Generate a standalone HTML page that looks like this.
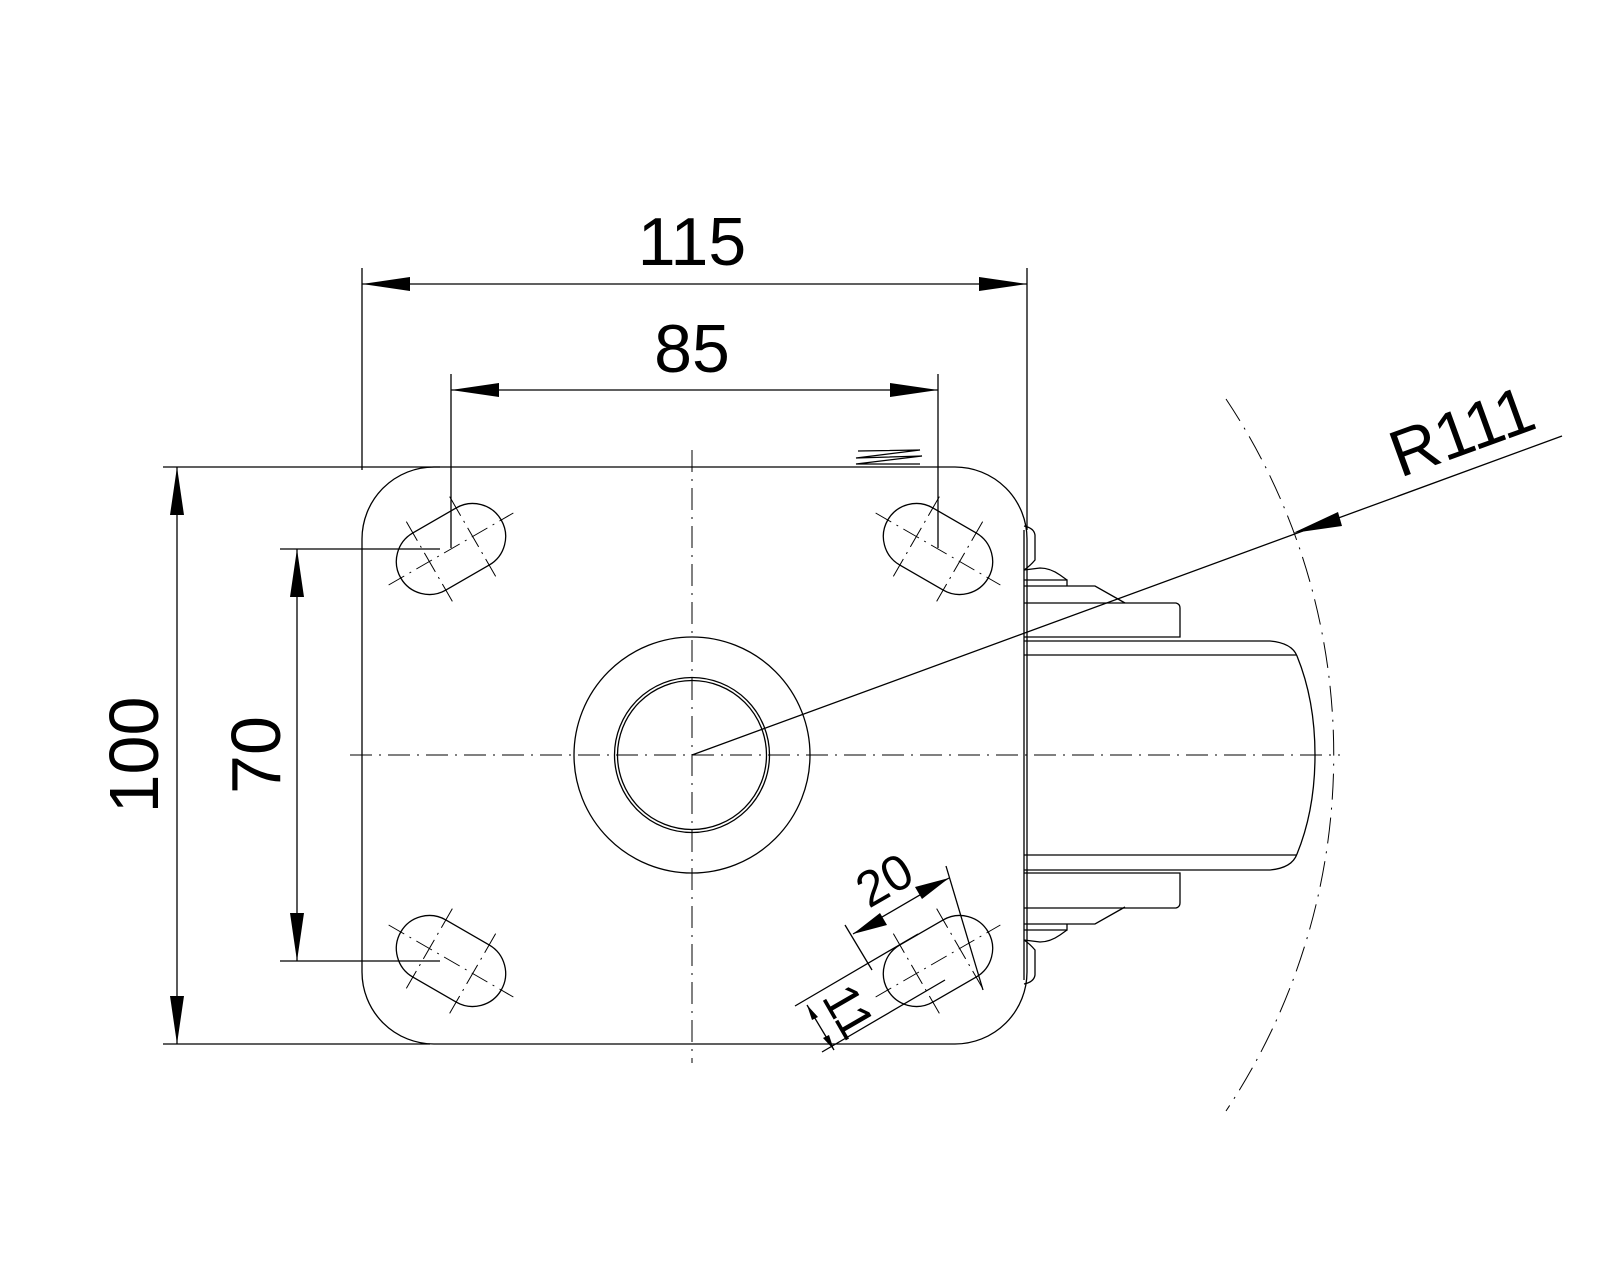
<!DOCTYPE html>
<html><head><meta charset="utf-8"><style>
html,body{margin:0;padding:0;background:#fff;}
svg{display:block;}
text{font-family:"Liberation Sans",sans-serif;fill:#000;}
</style></head><body>
<svg width="1600" height="1280" viewBox="0 0 1600 1280" xmlns="http://www.w3.org/2000/svg">
<defs>
<g id="slot">
  <path d="M -25,-33 L 25,-33 A 33 33 0 0 1 25,33 L -25,33 A 33 33 0 0 1 -25,-33 Z" fill="none" stroke="#000" stroke-width="1.3"/>
  <line x1="-72" y1="0" x2="72" y2="0" stroke="#000" stroke-width="1" stroke-dasharray="18,6,2,6"/>
  <line x1="-25" y1="-46" x2="-25" y2="46" stroke="#000" stroke-width="1" stroke-dasharray="22,6,2,6"/>
  <line x1="25" y1="-46" x2="25" y2="46" stroke="#000" stroke-width="1" stroke-dasharray="22,6,2,6"/>
</g>
</defs>
<g fill="none" stroke="#000" stroke-width="1.3">
  <rect x="362" y="467" width="665" height="577" rx="72" ry="72"/>
  <circle cx="692" cy="755" r="118"/>
  <circle cx="692" cy="755" r="77.5"/>
  <circle cx="692" cy="755" r="74.5"/>
  <line x1="163" y1="467" x2="440" y2="467"/>
  <line x1="163" y1="1044" x2="430" y2="1044"/>
  <line x1="280" y1="549" x2="440" y2="549"/>
  <line x1="280" y1="961" x2="440" y2="961"/>
  <line x1="362" y1="268" x2="362" y2="470"/>
  <line x1="1027" y1="268" x2="1027" y2="530"/>
  <line x1="451" y1="374" x2="451" y2="548"/>
  <line x1="938" y1="374" x2="938" y2="548"/>
  <line x1="362" y1="284" x2="1027" y2="284"/>
  <line x1="451" y1="390" x2="938" y2="390"/>
  <line x1="177" y1="467" x2="177" y2="1044"/>
  <line x1="297" y1="549" x2="297" y2="961"/>
  <line x1="1024" y1="530" x2="1024" y2="980"/>
  <path d="M1024,641 L1270,641 Q1292,643 1297,656 Q1315,700 1315,755 Q1315,810 1297,854 Q1292,868 1270,870 L1024,870"/>
  <line x1="1024" y1="655" x2="1297" y2="655"/>
  <line x1="1024" y1="855" x2="1297" y2="855"/>
  <path d="M1024,603 L1176,603 Q1180,604 1180,608 L1180,637 L1024,637"/>
  <path d="M1024,873 L1180,873 L1180,903 Q1180,907 1176,908 L1024,908"/>
  <path d="M1024,586 L1095,586 L1125,603"/>
  <path d="M1024,580 L1067,580 L1067,586"/>
  <path d="M1024,570 L1040,568 Q1050,568 1060,575 L1067,580"/>
  <path d="M1024,526 Q1034,528 1035,535 L1035,560 Q1030,566 1024,570"/>
  <path d="M1024,924 L1095,924 L1125,907"/>
  <path d="M1024,930 L1067,930 L1067,924"/>
  <path d="M1024,940 L1040,942 Q1050,942 1060,935 L1067,930"/>
  <path d="M1024,984 Q1034,982 1035,975 L1035,950 Q1030,944 1024,940"/>
  <path d="M858,451 L920,450 L856,458 L922,456 L856,464 L920,464"/>
  <line x1="692" y1="755" x2="1562" y2="436"/>
  <line x1="853" y1="934" x2="949" y2="878"/>
  <line x1="845" y1="925" x2="872" y2="970"/>
  <line x1="946" y1="866" x2="983" y2="990"/>
  <line x1="807" y1="1005" x2="834" y2="1050"/>
  <line x1="795" y1="1006" x2="918" y2="934"/>
  <line x1="822" y1="1052" x2="945" y2="980"/>
</g>
<path d="M1226,399 A642 642 0 0 1 1226,1111" fill="none" stroke="#000" stroke-width="1" stroke-dasharray="26,8,2,8"/>
<line x1="350" y1="755" x2="1340" y2="755" stroke="#000" stroke-width="1" stroke-dasharray="22,7,2,7"/>
<line x1="692" y1="450" x2="692" y2="1063" stroke="#000" stroke-width="1" stroke-dasharray="22,7,2,7"/>
<use href="#slot" transform="translate(451,549) rotate(-30)"/>
<use href="#slot" transform="translate(938,549) rotate(30)"/>
<use href="#slot" transform="translate(451,961) rotate(30)"/>
<use href="#slot" transform="translate(938,961) rotate(-30)"/>
<g fill="#000">
  <polygon points="362,284 410,277 410,291"/>
  <polygon points="1027,284 979,277 979,291"/>
  <polygon points="451,390 499,383 499,397"/>
  <polygon points="938,390 890,383 890,397"/>
  <polygon points="177,467 170,515 184,515"/>
  <polygon points="177,1044 170,996 184,996"/>
  <polygon points="297,549 290,597 304,597"/>
  <polygon points="297,961 290,913 304,913"/>
  <polygon points="1293,533 1338,512 1342,526"/>
  <polygon points="853,934 880,913 887,925"/>
  <polygon points="949,878 922,899 915,887"/>
  <polygon points="807,1005 812,1020 818,1017"/>
  <polygon points="834,1050 829,1035 823,1038"/>
</g>
<text x="692" y="265" font-size="68" text-anchor="middle">115</text>
<text x="692" y="372" font-size="68" text-anchor="middle">85</text>
<text transform="translate(158,755) rotate(-90)" font-size="70" text-anchor="middle">100</text>
<text transform="translate(280,755) rotate(-90)" font-size="70" text-anchor="middle">70</text>
<text transform="translate(1400,478) rotate(-20)" font-size="66">R111</text>
<text transform="translate(893,895) rotate(-30)" font-size="50" text-anchor="middle">20</text>
<text transform="translate(834,1020) rotate(60)" font-size="50" text-anchor="middle">11</text>
</svg>
</body></html>
